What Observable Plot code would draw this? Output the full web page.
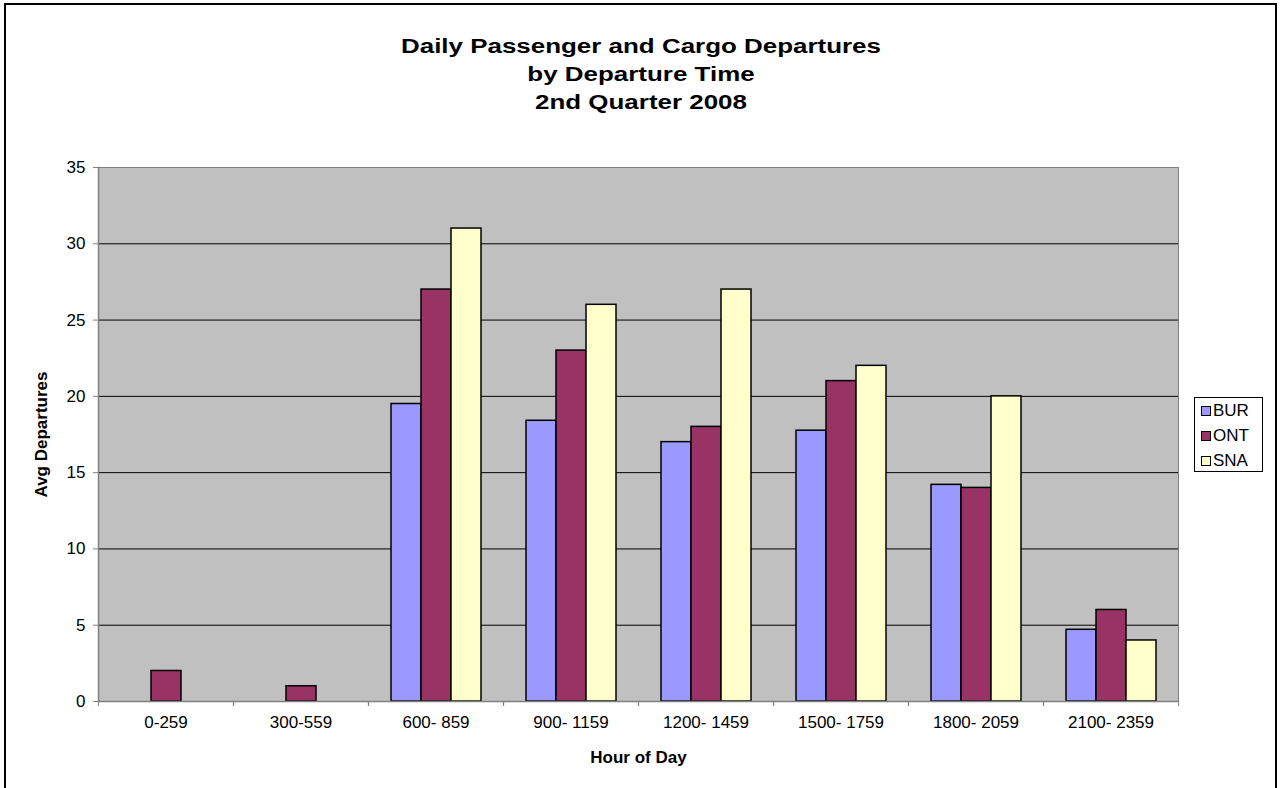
<!DOCTYPE html>
<html><head><meta charset="utf-8">
<script src="https://cdn.jsdelivr.net/npm/d3@7"></script>
<script src="https://cdn.jsdelivr.net/npm/@observablehq/plot@0.6"></script>
<style>
html,body{margin:0;padding:0;background:#fff;overflow:hidden;width:1282px;height:788px}
#wrap{position:relative;width:1282px;height:788px;font-family:"Liberation Sans",Arial,sans-serif;color:#000}
#border{position:absolute;left:4px;top:3px;width:1273px;height:800px;border:2px solid #000;box-sizing:border-box;pointer-events:none}
#title{position:absolute;left:0;width:1282px;top:32px;text-align:center;font-weight:bold;font-size:19.5px;line-height:28px;transform:scaleX(1.33);transform-origin:641px 0}
#legend{position:absolute;left:1194px;top:397px;width:69px;height:75px;border:1px solid #000;box-sizing:border-box;background:#fff;padding:0 0 0 6px}
.item{display:flex;align-items:center;height:25px;font-size:17px;line-height:17px}
.sw{width:10px;height:10px;border:1px solid #000;box-sizing:border-box;margin-right:2px}
#chart{position:absolute;left:0;top:0}
#chart svg [aria-label$="axis label"] text{font-weight:bold}
</style>
</head><body>
<div id="wrap">
  <div id="chart"></div>
  <div id="title"></div>
  <div id="legend"></div>
  <div id="border"></div>
</div>
<script>
const titleLines = ["Daily Passenger and Cargo Departures", "by Departure Time", "2nd Quarter 2008"];
const categories = ["0-259", "300-559", "600- 859", "900- 1159", "1200- 1459", "1500- 1759", "1800- 2059", "2100- 2359"];
const series = ["BUR", "ONT", "SNA"];
const colors = ["#9999FF", "#993366", "#FFFFCC"];
const BUR = [null, null, 19.5, 18.4, 17, 17.75, 14.2, 4.7];
const ONT = [2, 1, 27, 23, 18, 21, 14, 6];
const SNA = [null, null, 31, 26, 27, 22, 20, 4];
const yTicks = [0, 5, 10, 15, 20, 25, 30, 35];
const yLabel = "Avg Departures";
const xLabel = "Hour of Day";

const valuesBySeries = {BUR, ONT, SNA};
const data = categories.flatMap((c, i) =>
  series.map(s => ({category: c, airport: s, value: valuesBySeries[s][i]}))
).filter(d => d.value != null);

document.getElementById("title").innerHTML = titleLines.map(t => `<div>${t}</div>`).join("");
document.getElementById("legend").innerHTML = series.map((s, i) =>
  `<div class="item"><span class="sw" style="background:${colors[i]}"></span>${s}</div>`).join("");

const W = 1282, H = 788, ml = 97, mr = 103, mt = 167, mb = 87;
const step = (W - ml - mr) / categories.length;

const chart = Plot.plot({
  width: W, height: H,
  marginLeft: ml, marginRight: mr, marginTop: mt, marginBottom: mb,
  style: {fontFamily: '"Liberation Sans", Arial, sans-serif', fontSize: "17px", color: "#000", background: "transparent", overflow: "visible"},
  fx: {domain: categories, padding: 0, label: null, axis: null},
  x: {domain: series, paddingInner: 0, paddingOuter: 0.75, axis: null},
  y: {domain: [0, 35], ticks: yTicks, label: null},
  color: {domain: series, range: colors},
  marks: [
    Plot.frame({fill: "#C0C0C0", stroke: null, insetLeft: -0.6, insetRight: -0.6, shapeRendering: "crispEdges"}),
    Plot.gridY(yTicks.slice(1, -1), {stroke: "#000", strokeOpacity: 1}),
    Plot.ruleY([35], {stroke: "#808080"}),
    Plot.frame({anchor: "left", facetAnchor: "left", stroke: "#808080", strokeWidth: 1.5}),
    Plot.frame({anchor: "right", facetAnchor: "right", stroke: "#808080"}),
    Plot.barY(data, {fx: "category", x: "airport", y: "value", fill: "airport", stroke: "#000", strokeWidth: 1.5}),
    Plot.ruleY([0], {stroke: "#808080", strokeWidth: 1.5}),
    Plot.axisY(yTicks, {tickSize: 5, tickPadding: 8, stroke: "#808080", fill: "#000", label: yLabel, labelAnchor: "center", labelOffset: 64, labelArrow: "none"}),
    Plot.axisFx({anchor: "bottom", tickSize: 0, tickPadding: 14, fill: "#000", label: xLabel, labelAnchor: "center", labelOffset: 61, labelArrow: "none"}),
    Plot.axisFx({anchor: "bottom", text: null, tickSize: 5, dx: -step / 2, label: null, stroke: "#808080"}),
    Plot.axisFx(categories.slice(-1), {anchor: "bottom", text: null, tickSize: 5, dx: step / 2, label: null, stroke: "#808080"})
  ]
});
document.getElementById("chart").appendChild(chart);
</script>
</body></html>
